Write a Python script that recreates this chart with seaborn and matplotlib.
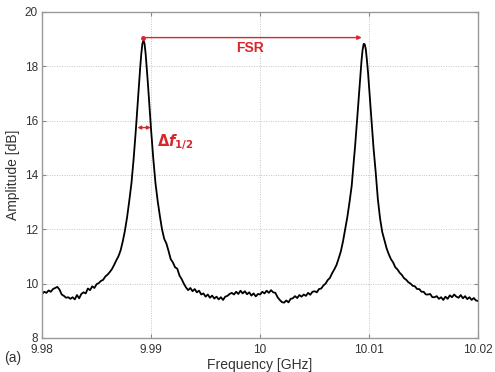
import matplotlib
matplotlib.use("Agg")
import matplotlib.pyplot as plt
import seaborn as sns
import pandas as pd

# ---- data ----
freq_left = [9.9800, 9.9802, 9.9804, 9.9806, 9.9808, 9.9810, 9.9812, 9.9814, 9.9816, 9.9818,
             9.9820, 9.9822, 9.9824, 9.9826, 9.9828, 9.9830, 9.9832, 9.9834, 9.9836, 9.9838,
             9.9840, 9.9842, 9.9844, 9.9846, 9.9848, 9.9850, 9.9852, 9.9854, 9.9856, 9.9858,
             9.9860, 9.9862, 9.9864, 9.9866, 9.9868, 9.9870, 9.9872, 9.9874, 9.9876, 9.9878,
             9.9880]
amp_left = [9.62, 9.70, 9.66, 9.75, 9.70, 9.80, 9.84, 9.88, 9.78, 9.60,
            9.55, 9.48, 9.50, 9.44, 9.50, 9.42, 9.58, 9.46, 9.62, 9.68,
            9.64, 9.82, 9.76, 9.90, 9.84, 9.98, 10.02, 10.10, 10.14, 10.26,
            10.33, 10.42, 10.53, 10.68, 10.85, 11.00, 11.22, 11.55, 11.95, 12.45,
            13.05]

freq_peak1 = [9.9882, 9.9883, 9.9884, 9.9885, 9.9886, 9.9887, 9.9888, 9.9889, 9.9890, 9.9891,
              9.9892, 9.9893, 9.9894, 9.9895, 9.9896, 9.9897, 9.9898, 9.9899, 9.9900, 9.9901,
              9.9902, 9.9903, 9.9904]
amp_peak1 = [13.70, 14.15, 14.60, 15.10, 15.65, 16.20, 16.80, 17.40, 17.95, 18.45,
             18.82, 18.95, 18.82, 18.45, 17.95, 17.40, 16.80, 16.20, 15.65, 15.10,
             14.60, 14.15, 13.70]

freq_mid = [9.9906, 9.9908, 9.9910, 9.9912, 9.9914, 9.9916, 9.9918, 9.9920, 9.9922, 9.9924,
            9.9926, 9.9928, 9.9930, 9.9932, 9.9934, 9.9936, 9.9938, 9.9940, 9.9942, 9.9944,
            9.9946, 9.9948, 9.9950, 9.9952, 9.9954, 9.9956, 9.9958, 9.9960, 9.9962, 9.9964,
            9.9966, 9.9968, 9.9970, 9.9972, 9.9974, 9.9976, 9.9978, 9.9980, 9.9982, 9.9984,
            9.9986, 9.9988, 9.9990, 9.9992, 9.9994, 9.9996, 9.9998, 10.0000, 10.0002, 10.0004,
            10.0006, 10.0008, 10.0010, 10.0012, 10.0014, 10.0016, 10.0018, 10.0020, 10.0022, 10.0024,
            10.0026, 10.0028, 10.0030, 10.0032, 10.0034, 10.0036, 10.0038, 10.0040, 10.0042, 10.0044,
            10.0046, 10.0048, 10.0050, 10.0052, 10.0054, 10.0056, 10.0058, 10.0060, 10.0062, 10.0064,
            10.0066, 10.0068, 10.0070, 10.0072, 10.0074, 10.0076, 10.0078, 10.0080, 10.0082]
amp_mid = [13.05, 12.50, 12.00, 11.65, 11.48, 11.20, 10.90, 10.78, 10.60, 10.55,
           10.30, 10.17, 10.00, 9.86, 9.76, 9.84, 9.72, 9.80, 9.68, 9.74,
           9.60, 9.64, 9.52, 9.60, 9.48, 9.56, 9.45, 9.52, 9.42, 9.50,
           9.40, 9.52, 9.55, 9.62, 9.66, 9.60, 9.70, 9.62, 9.74, 9.64,
           9.72, 9.61, 9.68, 9.56, 9.64, 9.53, 9.62, 9.60, 9.70, 9.64,
           9.74, 9.66, 9.76, 9.68, 9.66, 9.50, 9.40, 9.32, 9.30, 9.38,
           9.31, 9.44, 9.46, 9.54, 9.47, 9.58, 9.52, 9.60, 9.55, 9.66,
           9.59, 9.70, 9.72, 9.68, 9.80, 9.82, 9.93, 10.00, 10.13, 10.21,
           10.38, 10.52, 10.68, 10.92, 11.18, 11.55, 12.00, 12.45, 13.00]

freq_peak2 = [10.0084, 10.0085, 10.0086, 10.0087, 10.0088, 10.0089, 10.0090, 10.0091, 10.0092, 10.0093,
              10.0094, 10.0095, 10.0096, 10.0097, 10.0098, 10.0099, 10.0100, 10.0101, 10.0102, 10.0103,
              10.0104, 10.0105, 10.0106, 10.0107]
amp_peak2 = [13.60, 14.10, 14.55, 15.00, 15.50, 16.05, 16.60, 17.20, 17.75, 18.20,
             18.60, 18.82, 18.80, 18.60, 18.20, 17.75, 17.20, 16.60, 16.05, 15.50,
             15.00, 14.55, 14.10, 13.60]

freq_right = [10.0108, 10.0110, 10.0112, 10.0114, 10.0116, 10.0118, 10.0120, 10.0122, 10.0124, 10.0126,
              10.0128, 10.0130, 10.0132, 10.0134, 10.0136, 10.0138, 10.0140, 10.0142, 10.0144, 10.0146,
              10.0148, 10.0150, 10.0152, 10.0154, 10.0156, 10.0158, 10.0160, 10.0162, 10.0164, 10.0166,
              10.0168, 10.0170, 10.0172, 10.0174, 10.0176, 10.0178, 10.0180, 10.0182, 10.0184, 10.0186,
              10.0188, 10.0190, 10.0192, 10.0194, 10.0196, 10.0198, 10.0200]
amp_right = [13.10, 12.40, 11.90, 11.60, 11.30, 11.08, 10.90, 10.78, 10.60, 10.52,
             10.40, 10.32, 10.20, 10.14, 10.05, 10.00, 9.92, 9.90, 9.80, 9.80,
             9.70, 9.70, 9.60, 9.60, 9.62, 9.50, 9.50, 9.54, 9.44, 9.50,
             9.40, 9.52, 9.44, 9.57, 9.50, 9.60, 9.52, 9.48, 9.58, 9.46,
             9.54, 9.43, 9.50, 9.40, 9.47, 9.38, 9.36]

x_ticks = [9.98, 9.99, 10.00, 10.01, 10.02]
x_tick_labels = ["9.98", "9.99", "10", "10.01", "10.02"]
y_ticks = [8, 10, 12, 14, 16, 18, 20]

fsr_start, fsr_end, fsr_level = 9.98923, 10.00932, 19.05
fwhm_start, fwhm_end, fwhm_level = 9.98874, 9.98997, 15.74

freq = freq_left + freq_peak1 + freq_mid + freq_peak2 + freq_right
amp = amp_left + amp_peak1 + amp_mid + amp_peak2 + amp_right
df = pd.DataFrame({"Frequency": freq, "Amplitude": amp})

# ---- styling ----
sns.set_theme(style="white")
plt.rcParams["font.family"] = ["Liberation Sans", "DejaVu Sans"]

fig = plt.figure(figsize=(4.95, 3.72), dpi=100)
ax = fig.add_axes([0.085, 0.0914, 0.881, 0.877])

sns.lineplot(data=df, x="Frequency", y="Amplitude", ax=ax, color="black",
             linewidth=1.3, sort=False, estimator=None)

ax.set_xlim(9.98, 10.02)
ax.set_ylim(8, 20)
ax.set_xticks(x_ticks)
ax.set_xticklabels(x_tick_labels)
ax.set_yticks(y_ticks)
ax.grid(True, linestyle=(0, (1, 1.5)), color="#c4c4c4", linewidth=0.7)
ax.tick_params(direction="in", length=3, width=0.8, colors="#888888",
               labelcolor="#333333", labelsize=8.5, top=True, right=True,
               bottom=True, left=True)
ax.tick_params(axis="x", pad=4.5)
ax.tick_params(axis="y", pad=3)
for s in ax.spines.values():
    s.set_color("#999999")
    s.set_linewidth(1.0)

ax.set_xlabel("Frequency [GHz]", fontsize=10, color="#333333", labelpad=1)
ax.set_ylabel("Amplitude [dB]", fontsize=10, color="#333333", labelpad=3)

red = "#d9262c"
ax.annotate("", xy=(fsr_end, fsr_level), xytext=(fsr_start, fsr_level),
            arrowprops=dict(arrowstyle="-|>", color=red, lw=1.0,
                            mutation_scale=6, shrinkA=0, shrinkB=0))
ax.plot([fsr_start], [fsr_level], marker="o", markersize=2.5, color=red)
ax.text(9.99908, 18.67, "FSR", color=red, fontsize=10, fontweight="bold",
        ha="center", va="center")

ax.annotate("", xy=(fwhm_end, fwhm_level), xytext=(fwhm_start, fwhm_level),
            arrowprops=dict(arrowstyle="<|-|>", color=red, lw=1.0,
                            mutation_scale=5, shrinkA=0, shrinkB=0))
ax.text(9.99055, 15.2, r"$\mathbf{\Delta}\boldsymbol{f}_{\mathbf{1/2}}$",
        color=red, fontsize=10.5, ha="left", va="center")

fig.text(0.008, 0.038, "(a)", fontsize=10, color="#333333", ha="left", va="center")

fig.savefig("out.png", dpi=100, facecolor="white")
